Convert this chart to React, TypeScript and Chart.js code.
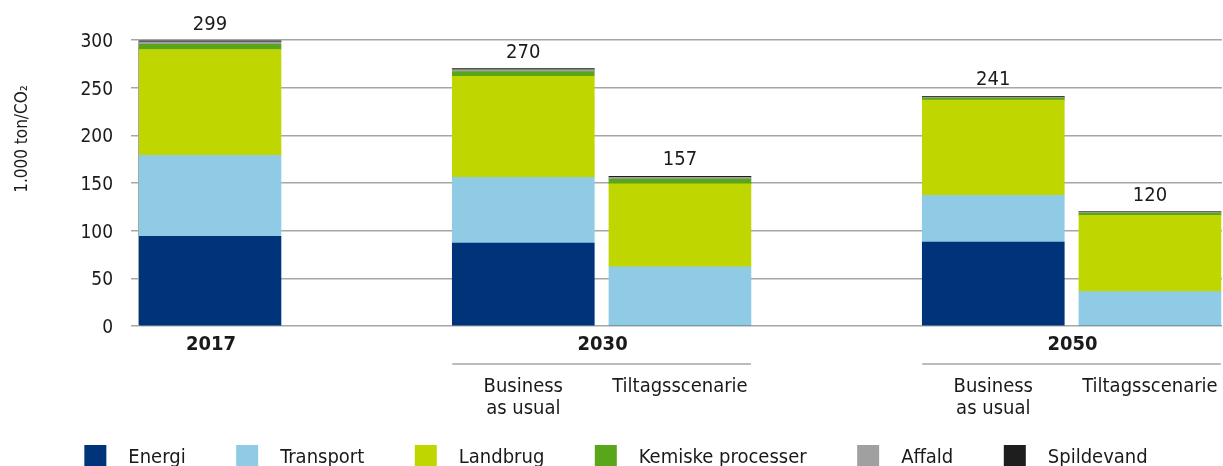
import React, { useEffect, useRef } from "react";
import { Chart, registerables } from "chart.js";

Chart.register(...registerables);

// ---------- DATA ----------
const slotIndex = [0, 1, 2, 3, 4, 5, 6];
const subLabels: string[][] = [[], [], ["Business", "as usual"], ["Tiltagsscenarie"], [], ["Business", "as usual"], ["Tiltagsscenarie"]];
const groupLabels = ["2017", "2030", "2050"];
const groupSlots = [[0], [2, 3], [5, 6]];

const seriesNames = ["Energi", "Transport", "Landbrug", "Kemiske processer", "Affald", "Spildevand"];
const energi = [94, null, 87, 0, null, 88, 0];
const transport = [85, null, 69, 62, null, 49, 36];
const landbrug = [111, null, 106, 87, null, 100, 80];
const kemiske = [5.5, null, 5, 5, null, 2, 2.5];
const affald = [2.5, null, 2, 2, null, 1, 1];
const spildevand = [1, null, 1, 1, null, 1, 0.5];
const totals = [299, null, 270, 157, null, 241, 120];

const yTitle = "1.000 ton/CO\u2082";

// ---------- STYLE ----------
const colors = ["#00347a", "#90cbe6", "#bfd600", "#5aa61b", "#a0a0a0", "#1e1e1e"];
const FONT = "'DejaVu Sans Condensed', 'DejaVu Sans', sans-serif";
const TEXT = "#1a1a1a";
const GRID = "#a6a6a6";
const BAR_W = 142;

const labelsPlugin = {
  id: "customLabels",
  afterDraw(chart: any) {
    const ctx = chart.ctx as CanvasRenderingContext2D;
    const xs = chart.scales.x;
    const ys = chart.scales.y;
    const series = [energi, transport, landbrug, kemiske, affald, spildevand];
    ctx.save();
    ctx.fillStyle = TEXT;

    // totals above bars
    ctx.font = `20px ${FONT}`;
    ctx.textAlign = "center";
    ctx.textBaseline = "alphabetic";
    totals.forEach((t, i) => {
      if (t == null) return;
      const sum = series.reduce((a, s) => a + ((s[i] as number) || 0), 0);
      const x = xs.getPixelForValue(slotIndex[i]);
      const y = ys.getPixelForValue(sum) - 11;
      ctx.fillText(String(t), x, y);
    });

    // group labels + separators
    groupSlots.forEach((slots, g) => {
      const left = xs.getPixelForValue(slotIndex[slots[0]]) - BAR_W / 2;
      const right = xs.getPixelForValue(slotIndex[slots[slots.length - 1]]) + BAR_W / 2;
      const cx = (left + right) / 2;
      ctx.font = `bold 20px ${FONT}`;
      ctx.fillStyle = TEXT;
      ctx.fillText(groupLabels[g], cx + 1, 350);
      if (slots.length > 1) {
        ctx.strokeStyle = GRID;
        ctx.lineWidth = 1.5;
        ctx.beginPath();
        ctx.moveTo(left, 364);
        ctx.lineTo(right, 364);
        ctx.stroke();
      }
    });

    // sub labels
    ctx.font = `20px ${FONT}`;
    subLabels.forEach((lines, i) => {
      const x = xs.getPixelForValue(slotIndex[i]);
      lines.forEach((ln, k) => {
        ctx.fillText(ln, x, 392 + k * 22);
      });
    });

    // y-axis title
    ctx.save();
    ctx.translate(23, 139);
    ctx.rotate(-Math.PI / 2);
    ctx.font = `17px ${FONT}`;
    ctx.textAlign = "center";
    ctx.textBaseline = "middle";
    ctx.fillText(yTitle, 0, 0);
    ctx.restore();

    // legend
    ctx.font = `20px ${FONT}`;
    ctx.textAlign = "left";
    const boxW = 22, boxGap = 22, itemGap = 50.5;
    const widths = seriesNames.map((n) => ctx.measureText(n).width);
    const total = widths.reduce((a, w) => a + boxW + boxGap + w, 0) + itemGap * (seriesNames.length - 1);
    let x = 616 - total / 2;
    seriesNames.forEach((n, i) => {
      ctx.fillStyle = colors[i];
      ctx.fillRect(x, 445, boxW, 21);
      ctx.fillStyle = TEXT;
      ctx.fillText(n, x + boxW + boxGap, 463);
      x += boxW + boxGap + widths[i] + itemGap;
    });

    ctx.restore();
  },
};

export default function App() {
  const ref = useRef<HTMLCanvasElement | null>(null);

  useEffect(() => {
    document.body.style.margin = "0";
    document.body.style.overflow = "hidden";
    const canvas = ref.current;
    if (!canvas) return;
    const series = [energi, transport, landbrug, kemiske, affald, spildevand];
    const chart = new Chart(canvas, {
      type: "bar",
      data: {
        labels: slotIndex,
        datasets: series.map((s, i) => ({
          label: seriesNames[i],
          data: s,
          backgroundColor: colors[i],
          borderWidth: 0,
          barThickness: BAR_W,
        })),
      },
      options: {
        responsive: false,
        animation: false,
        events: [],
        layout: { padding: { top: 40, right: 1, left: 0, bottom: 0 } },
        plugins: { legend: { display: false }, tooltip: { enabled: false } },
        scales: {
          x: {
            type: "linear",
            stacked: true,
            offset: false,
            min: -0.453,
            max: 6.46,
            grid: { display: false, drawTicks: false },
            border: { display: false },
            ticks: { display: false },
            afterFit: (s: any) => {
              s.height = 140;
            },
          },
          y: {
            stacked: true,
            min: 0,
            max: 300,
            ticks: { stepSize: 50, padding: 18, labelOffset: 2, color: TEXT, font: { family: FONT, size: 19 } },
            grid: { color: GRID, lineWidth: 1.5, tickLength: 8, drawTicks: true },
            border: { display: true, color: GRID, width: 1.5 },
            afterFit: (s: any) => {
              s.width = 139;
            },
          },
        },
      },
      plugins: [labelsPlugin],
    } as any);
    return () => chart.destroy();
  }, []);

  return (
    <div style={{ position: "fixed", left: 0, top: 0, width: 1223, height: 466 }}>
      <canvas ref={ref} width={1223} height={466} style={{ display: "block" }} />
    </div>
  );
}
